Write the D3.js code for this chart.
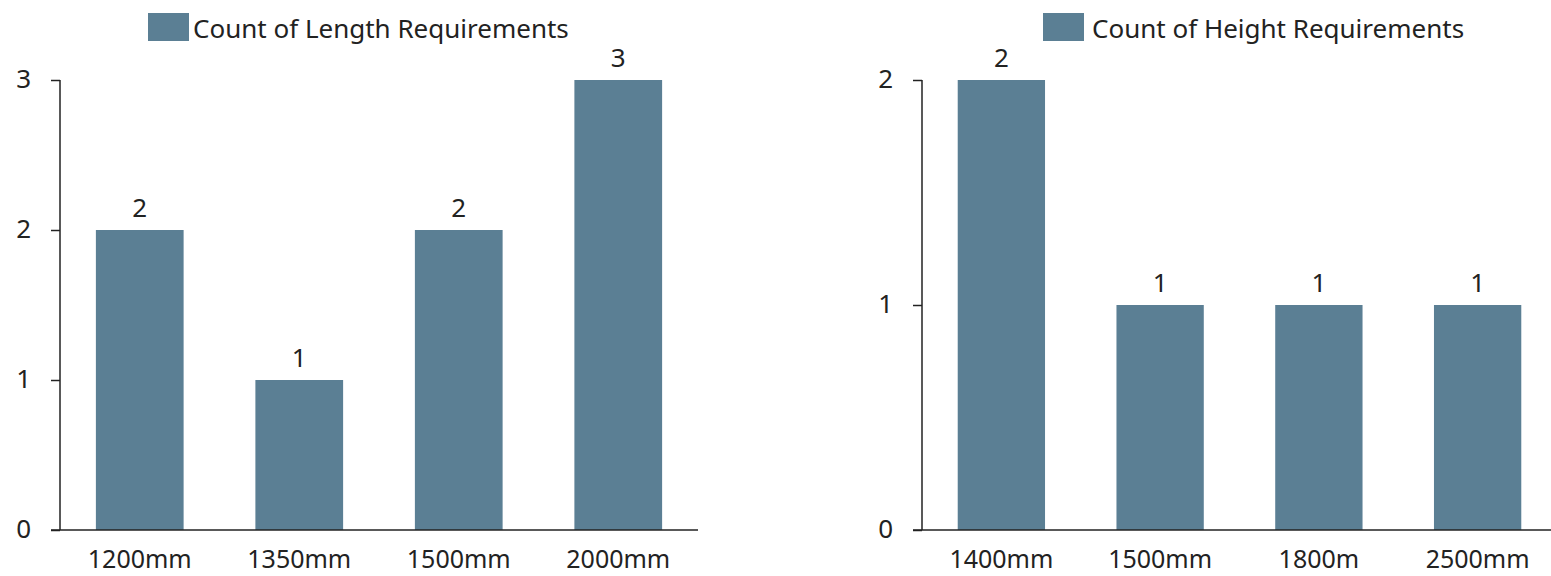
<!DOCTYPE html>
<html>
<head>
<meta charset="utf-8">
<script src="https://cdn.jsdelivr.net/npm/d3@7"></script>
<style>
  html, body { margin: 0; padding: 0; background: #fff; }
  svg { display: block; }
  text { font-family: "Noto Sans", "Open Sans", sans-serif; fill: #222; }
</style>
</head>
<body>
<svg id="chart" width="1551" height="576"></svg>
<script>
// Length requirements
const lengthCategories = ["1200mm", "1350mm", "1500mm", "2000mm"];
const lengthCounts = [2, 1, 2, 3];
const lengthTicks = [0, 1, 2, 3];
const lengthLegend = "Count of Length Requirements";

// Height requirements
const heightCategories = ["1400mm", "1500mm", "1800m", "2500mm"];
const heightCounts = [2, 1, 1, 1];
const heightTicks = [0, 1, 2];
const heightLegend = "Count of Height Requirements";

const barColor = "#5b7f94";
const svg = d3.select("#chart");

function drawPanel(cfg) {
  const g = svg.append("g");
  const x = d3.scaleBand().domain(cfg.categories).range([cfg.x0, cfg.x1]).paddingInner(0.45).paddingOuter(0.225);
  const y = d3.scaleLinear().domain([0, d3.max(cfg.ticks)]).range([530, 80]);

  // bars
  g.selectAll("rect.bar").data(cfg.values).join("rect")
    .attr("class", "bar")
    .attr("x", (d, i) => x(cfg.categories[i]))
    .attr("y", d => y(d))
    .attr("width", x.bandwidth())
    .attr("height", d => y(0) - y(d))
    .attr("fill", barColor);

  // value labels above each bar
  g.selectAll("text.val").data(cfg.values).join("text")
    .attr("class", "val")
    .attr("x", (d, i) => x(cfg.categories[i]) + x.bandwidth() / 2)
    .attr("y", d => y(d) - 13)
    .attr("text-anchor", "middle")
    .attr("font-size", 26)
    .text(d => d);

  // y axis
  const yAxis = d3.axisLeft(y).tickValues(cfg.ticks).tickFormat(d3.format("d")).tickSize(9).tickPadding(20);
  const ya = g.append("g").attr("transform", `translate(${cfg.x0},0)`).call(yAxis);
  ya.select(".domain").attr("d", `M0,${y(d3.max(cfg.ticks))}V${y(0)}`).attr("stroke", "#222").attr("stroke-width", 1.5);
  ya.selectAll(".tick line").attr("stroke", "#222").attr("stroke-width", 1.5);
  ya.selectAll(".tick text").attr("font-size", 26).attr("dy", "0.27em").attr("font-family", null).attr("fill", "#222");

  // x axis
  const xAxis = d3.axisBottom(x).tickSize(0).tickPadding(20);
  const xa = g.append("g").attr("transform", `translate(0,${y(0)})`).call(xAxis);
  xa.select(".domain").attr("d", `M${cfg.x0 - 9},0H${cfg.x1}`).attr("stroke", "#222").attr("stroke-width", 1.5);
  xa.selectAll(".tick text").attr("font-size", 25).attr("font-family", null).attr("fill", "#222");

  // legend
  const lg = g.append("g").attr("transform", `translate(${cfg.legendX},13)`);
  lg.append("rect").attr("width", 41).attr("height", 28).attr("fill", barColor);
  lg.append("text").attr("x", cfg.legendGap).attr("y", 25).attr("font-size", 26).text(cfg.legend);
}

drawPanel({ categories: lengthCategories, values: lengthCounts, ticks: lengthTicks, legend: lengthLegend, x0: 60, x1: 698, legendX: 148, legendGap: 45 });
drawPanel({ categories: heightCategories, values: heightCounts, ticks: heightTicks, legend: heightLegend, x0: 922, x1: 1557, legendX: 1043, legendGap: 49 });
</script>
</body>
</html>
